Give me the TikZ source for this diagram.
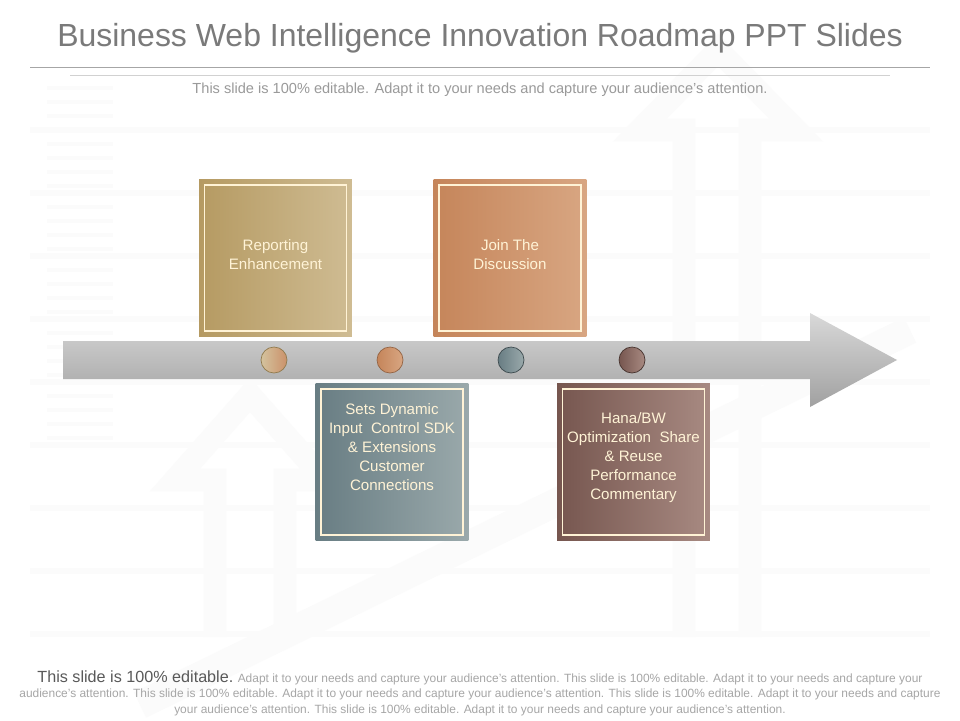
\documentclass[tikz,border=0pt]{standalone}
\usepackage{fontspec}
\setmainfont{Liberation Sans}
\usetikzlibrary{positioning}

\definecolor{titlegray}{HTML}{7A7A7A}
\definecolor{subgray}{HTML}{9A9A9A}
\definecolor{cream}{HTML}{FFF3D6}
\definecolor{faint}{HTML}{FBFBFB}
\definecolor{goldL}{HTML}{B59A62}
\definecolor{goldR}{HTML}{CFBC93}
\definecolor{copperL}{HTML}{C5855A}
\definecolor{copperR}{HTML}{D8A682}
\definecolor{slateL}{HTML}{687D83}
\definecolor{slateR}{HTML}{9AA9AB}
\definecolor{mauveL}{HTML}{76564F}
\definecolor{mauveR}{HTML}{A88A82}

\tikzset{
  stagebox/.style={minimum width=3.06cm, minimum height=3.16cm, inner sep=0pt},
  innerframe/.style={draw=cream, line width=0.6pt, minimum width=2.84cm, minimum height=2.92cm, inner sep=0pt},
  stagetext/.style={text=cream, align=center, font=\fontsize{8.6}{10.8}\selectfont},
  dot/.style={circle, minimum size=0.52cm, inner sep=0pt, line width=0.4pt},
  wmark/.style={draw=faint, line width=13pt, line join=miter}
}

\begin{document}
\begin{tikzpicture}[x=0.02cm, y=-0.02cm]
\useasboundingbox[fill=white] (0,0) rectangle (960,720);

% faint background
\foreach \Y in {130,193,256,319,382,445,508,571,634}{
  \draw[faint, line width=3pt] (30,\Y) -- (930,\Y);
}
\foreach \Y in {88,102,116,144,158,172,186,207,221,235,249,270,284,298,312,333,347,361,375,396,410,424,438}{
  \draw[faint, line width=2.5pt] (47,\Y) -- (113,\Y);
}
\draw[wmark] (684,637) -- (684,130) -- (640,130) -- (718,50) -- (796,130) -- (750,130) -- (750,637);
\draw[wmark] (215,637) -- (215,480) -- (175,480) -- (250,395) -- (325,480) -- (285,480) -- (285,637);
\draw[wmark, line width=16pt] (140,705) -- (910,330);

% title
\node[text=titlegray, font=\fontsize{18.2}{21}\selectfont] (title) at (480,38) {Business Web Intelligence Innovation Roadmap PPT Slides};
\draw[black!35] (30,67) -- (930,67);
\draw[black!18] (70,75) -- (890,75);
\node[text=subgray, font=\fontsize{8.3}{9.5}\selectfont] (sub) at (480,90) {This slide is 100\% editable. Adapt it to your needs and capture your audience's attention.};

% timeline arrow
\shade[top color=black!15, bottom color=black!37] (63,341) -- (810,341) -- (810,313) -- (897,360) -- (810,407) -- (810,379) -- (63,379) -- cycle;

% stages
\node[stagebox, left color=goldL, right color=goldR] (B1) at (275.5,258) {};
\node[stagebox, left color=copperL, right color=copperR] (B2) at (510,258) {};
\node[stagebox, left color=slateL, right color=slateR] (B3) at (392,462) {};
\node[stagebox, left color=mauveL, right color=mauveR] (B4) at (633.5,462) {};
\foreach \B in {B1,B2,B3,B4}{
  \node[innerframe] (\B f) at (\B) {};
}
\node[stagetext] (t1) at (275.5,255) {Reporting\\Enhancement};
\node[stagetext] (t2) at (510,255) {Join The\\Discussion};
\node[stagetext] (t3) at (392,447) {Sets Dynamic\\Input\ \ Control SDK\\\& Extensions\\Customer\\Connections};
\node[stagetext] (t4) at (633.5,458) {Hana/BW\\Optimization\ \ Share\\\& Reuse\\Performance\\Commentary};

% dots on the arrow
\node[dot, draw=goldL!80!black, left color=goldR!90!white, right color=copperL!90!white] (c1) at (274,360) {};
\node[dot, draw=copperL!75!black, left color=copperL, right color=copperR] (c2) at (390,360) {};
\node[dot, draw=slateL!60!black, left color=slateL, right color=slateR] (c3) at (511,360) {};
\node[dot, draw=mauveL!60!black, left color=mauveL, right color=mauveR] (c4) at (632,360) {};

% footer
\node[text=black!35, align=center, font=\fontsize{6.8}{8.8}\selectfont] (foot) at (480,693)
  {{\fontsize{9.2}{8.8}\selectfont\color{black!65}This slide is 100\% editable.} Adapt it to your needs and capture your audience's attention. This slide is 100\% editable. Adapt it to your needs and capture your\\
   audience's attention. This slide is 100\% editable. Adapt it to your needs and capture your audience's attention. This slide is 100\% editable. Adapt it to your needs and capture\\
   your audience's attention. This slide is 100\% editable. Adapt it to your needs and capture your audience's attention.};
\end{tikzpicture}
\end{document}
